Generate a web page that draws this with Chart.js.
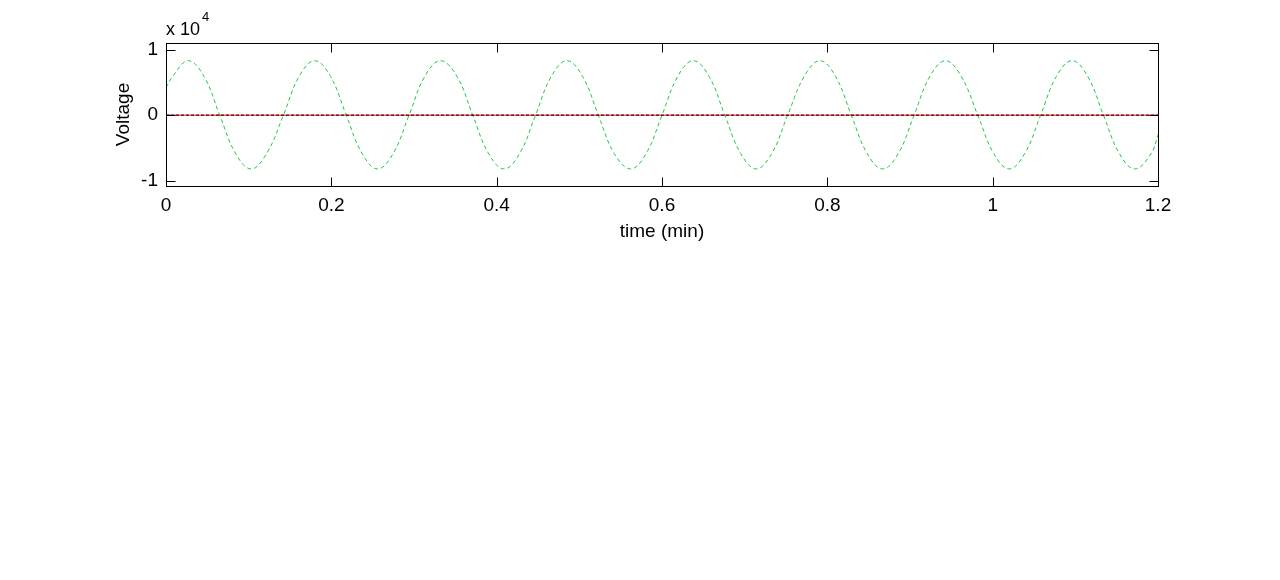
<!DOCTYPE html>
<html>
<head>
<meta charset="utf-8">
<script src="https://cdn.jsdelivr.net/npm/chart.js@4"></script>
<style>
  html, body { margin: 0; padding: 0; background: #fff; }
  #wrap { width: 1280px; height: 580px; }
</style>
</head>
<body>
<div id="wrap"><canvas id="plot" width="1280" height="580"></canvas></div>
<script>
// time axis (min) and voltage (x 10^4)
const timeMin = [
  0, 0.008, 0.027, 0.046, 0.065, 0.084, 0.103, 0.122, 0.142, 0.161,
  0.180, 0.199, 0.218, 0.237, 0.256, 0.275, 0.294, 0.313,
  0.332, 0.352, 0.371, 0.390, 0.409, 0.428, 0.447, 0.466,
  0.485, 0.504, 0.523, 0.542, 0.562, 0.581, 0.600, 0.619,
  0.638, 0.657, 0.676, 0.695, 0.714, 0.733, 0.752, 0.772,
  0.791, 0.810, 0.829, 0.848, 0.867, 0.886, 0.905, 0.924,
  0.943, 0.962, 0.982, 1.001, 1.020, 1.039, 1.058, 1.077,
  1.096, 1.115, 1.134, 1.153, 1.172, 1.192, 1.200
];
const voltage = [
  0.42, 0.59, 0.83, 0.59, 0, -0.58, -0.82, -0.58, 0, 0.59,
  0.83, 0.59, 0, -0.58, -0.82, -0.58, 0, 0.59,
  0.83, 0.59, 0, -0.58, -0.82, -0.58, 0, 0.59,
  0.83, 0.59, 0, -0.58, -0.82, -0.58, 0, 0.59,
  0.83, 0.59, 0, -0.58, -0.82, -0.58, 0, 0.59,
  0.83, 0.59, 0, -0.58, -0.82, -0.58, 0, 0.59,
  0.83, 0.59, 0, -0.58, -0.82, -0.58, 0, 0.59,
  0.83, 0.59, 0, -0.58, -0.82, -0.58, -0.3
];
const zeroTime = [0, 1.2];
const zeroVoltage = [0, 0];
const xTickValues = [0, 0.2, 0.4, 0.6, 0.8, 1, 1.2];
const yTickValues = [-1, 0, 1];

const FONT = '"Liberation Sans", Arial, sans-serif';
const pts = (xs, ys) => xs.map((x, i) => ({ x: x, y: ys[i] }));

// matlab-like box with inward ticks on all four sides + exponent label
const boxPlugin = {
  id: 'box',
  afterDatasetsDraw(chart) {
    const { ctx, chartArea: a, scales } = chart;
    const L = Math.round(a.left) + 0.5, R = Math.round(a.right) + 0.5;
    const T = Math.round(a.top) + 0.5, B = Math.round(a.bottom) + 0.5;
    const tick = 9;
    ctx.save();
    ctx.strokeStyle = '#000';
    ctx.lineWidth = 1;
    ctx.strokeRect(L, T, R - L, B - T);
    ctx.beginPath();
    xTickValues.forEach(v => {
      const px = Math.round(scales.x.getPixelForValue(v)) + 0.5;
      ctx.moveTo(px, B); ctx.lineTo(px, B - tick);
      ctx.moveTo(px, T); ctx.lineTo(px, T + tick);
    });
    yTickValues.forEach(v => {
      const py = Math.round(scales.y.getPixelForValue(v)) + 0.5;
      ctx.moveTo(L, py); ctx.lineTo(L + tick, py);
      ctx.moveTo(R, py); ctx.lineTo(R - tick, py);
    });
    ctx.stroke();

    ctx.fillStyle = '#000';
    ctx.textBaseline = 'alphabetic';
    ctx.textAlign = 'left';
    ctx.font = '18px ' + FONT;
    ctx.fillText('x 10', a.left, 35);
    ctx.font = '13px ' + FONT;
    ctx.fillText('4', a.left + 36, 21);
    ctx.restore();
  }
};

new Chart(document.getElementById('plot').getContext('2d'), {
  type: 'line',
  data: {
    datasets: [
      {
        data: pts(zeroTime, zeroVoltage),
        borderColor: '#000',
        borderWidth: 1,
        borderDash: [3, 2],
        pointRadius: 0
      },
      {
        data: pts(zeroTime, zeroVoltage),
        borderColor: '#ff0000',
        borderWidth: 1,
        pointRadius: 0
      },
      {
        data: pts(timeMin, voltage),
        borderColor: '#22c840',
        borderWidth: 1,
        borderDash: [4, 3],
        tension: 0.4,
        pointRadius: 0
      }
    ]
  },
  options: {
    responsive: false,
    animation: false,
    events: [],
    layout: { padding: { left: 108, top: 43, right: 122, bottom: 335 } },
    plugins: { legend: { display: false }, tooltip: { enabled: false } },
    scales: {
      x: {
        type: 'linear',
        min: 0,
        max: 1.2,
        afterBuildTicks: s => { s.ticks = xTickValues.map(v => ({ value: v })); },
        afterFit: s => { s.height = 59; },
        grid: { display: false, drawTicks: false },
        border: { display: false },
        ticks: {
          padding: 8,
          color: '#000',
          font: { family: FONT, size: 19 },
          maxRotation: 0,
          callback: v => String(Number(v.toFixed(1)))
        },
        title: {
          display: true,
          text: 'time (min)',
          color: '#000',
          font: { family: FONT, size: 19 },
          padding: { top: 0, bottom: 2 }
        }
      },
      y: {
        min: -1.08,
        max: 1.1,
        afterBuildTicks: s => { s.ticks = yTickValues.map(v => ({ value: v })); },
        afterFit: s => { s.width = 58; },
        grid: { display: false, drawTicks: false },
        border: { display: false },
        ticks: {
          padding: 8,
          color: '#000',
          font: { family: FONT, size: 19 },
          callback: v => String(v)
        },
        title: {
          display: true,
          text: 'Voltage',
          color: '#000',
          font: { family: FONT, size: 19 },
          padding: { top: 4, bottom: 0 }
        }
      }
    }
  },
  plugins: [boxPlugin]
});
</script>
</body>
</html>
